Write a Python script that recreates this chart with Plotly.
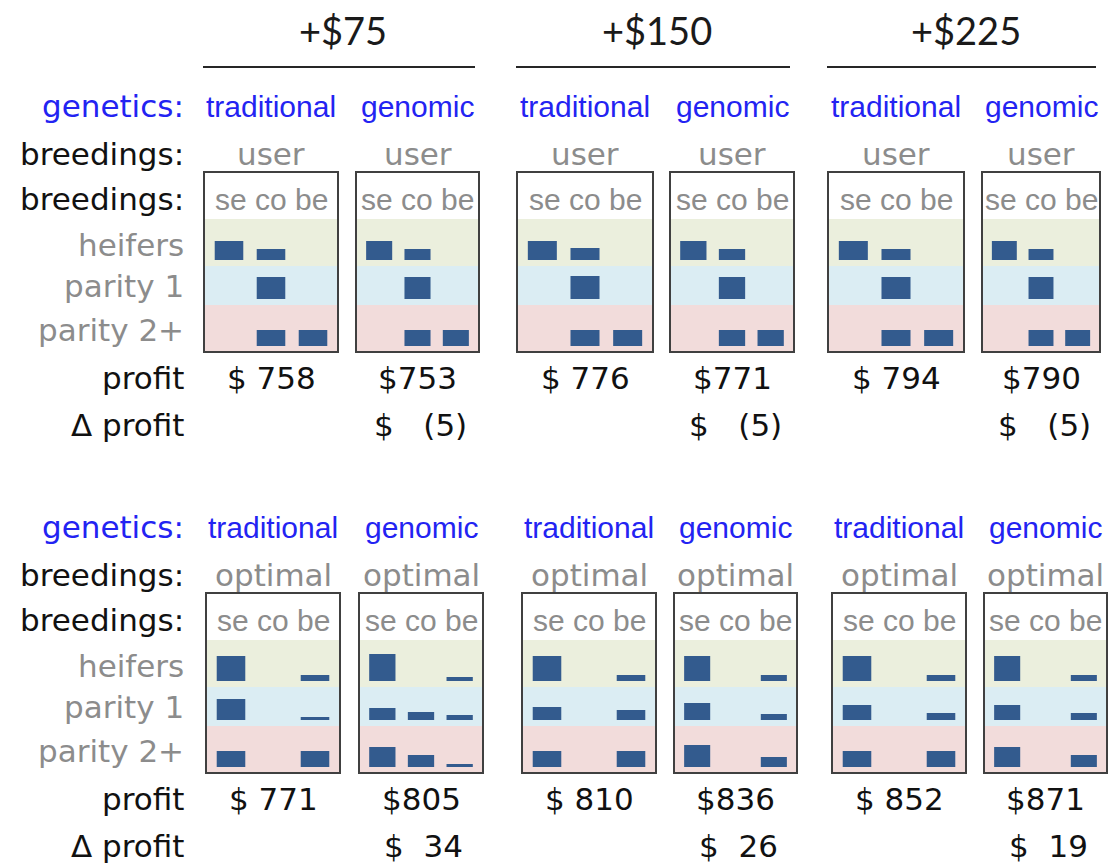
import plotly.graph_objects as go

W, H = 1109, 865

# ---------------- data ----------------
price_offsets = ["+$75", "+$150", "+$225"]
genetics_types = ["traditional", "genomic", "traditional", "genomic", "traditional", "genomic"]
breeding_modes = ["user", "optimal"]
methods = ["se", "co", "be"]
cow_groups = ["heifers", "parity 1", "parity 2+"]
row_labels = ["genetics:", "breedings:", "breedings:", "heifers", "parity 1", "parity 2+", "profit", "Δ profit"]

# relative share of breedings by method [se, co, be], one entry per panel
user_heifers = [[19, 11, 0], [19, 11, 0], [19, 12, 0], [19, 11, 0], [19, 11, 0], [19, 11, 0]]
user_parity1 = [[0, 22, 0], [0, 22, 0], [0, 23, 0], [0, 22, 0], [0, 22, 0], [0, 22, 0]]
user_parity2 = [[0, 16, 16], [0, 16, 16], [0, 16, 16], [0, 16, 16], [0, 16, 16], [0, 16, 16]]
opt_heifers = [[25, 0, 6], [27, 0, 4], [25, 0, 6], [25, 0, 6], [25, 0, 6], [25, 0, 6]]
opt_parity1 = [[21, 0, 3], [12, 8, 5], [13, 0, 10], [17, 0, 6], [15, 0, 7], [15, 0, 7]]
opt_parity2 = [[16, 0, 16], [20, 12, 3], [16, 0, 16], [22, 0, 10], [16, 0, 16], [20, 0, 12]]

user_profit = [758, 753, 776, 771, 794, 790]
user_delta = [None, -5, None, -5, None, -5]
opt_profit = [771, 805, 810, 836, 852, 871]
opt_delta = [None, 34, None, 26, None, 19]

# ---------------- layout geometry (pixels) ----------------
box_x = [
    [(204, 338), (356, 479), (517, 653), (670, 794), (828, 964), (982, 1100)],
    [(206, 340), (359, 483), (522, 656), (674, 797), (832, 966), (984, 1107)],
]
block_top = [172, 593]
header_h = 47
band_h = [47, 39, 47]
baseline_pad = 6
bar_inset = 4
row_y = [106, 154, 199, 245, 286, 330, 378, 425]   # text rows of the top block
block_shift = 421
label_right = 186

BAR = "#335b8e"
BAND = ["#ebefdd", "#dbedf3", "#f2dcdb"]
BLUE = "#2323f2"
GRAY = "#8c8c8c"
BORDER = "#404040"
LEFT_FONT = "DejaVu Sans"
NARROW_FONT = "Liberation Sans"
LSIZE = 31


def px(x):
    return x / W


def py(y):
    return 1 - y / H


fig = go.Figure()
layout = {}
shapes = []
annotations = []

blocks = [
    (user_heifers, user_parity1, user_parity2, user_profit, user_delta, breeding_modes[0]),
    (opt_heifers, opt_parity1, opt_parity2, opt_profit, opt_delta, breeding_modes[1]),
]

k = 0
for b, (hf, p1, p2, profits, deltas, mode) in enumerate(blocks):
    rows_data = [hf, p1, p2]
    top = block_top[b]
    for p in range(6):
        x0, x1 = box_x[b][p]
        y_cursor = top + header_h
        for r in range(3):
            yb0 = y_cursor
            yb1 = y_cursor + band_h[r]
            shapes.append(dict(type="rect", xref="paper", yref="paper",
                               x0=px(x0), x1=px(x1), y0=py(yb1), y1=py(yb0),
                               fillcolor=BAND[r], line=dict(width=0), layer="below"))
            k += 1
            xa = "xaxis" if k == 1 else f"xaxis{k}"
            ya = "yaxis" if k == 1 else f"yaxis{k}"
            xr = "x" if k == 1 else f"x{k}"
            yr = "y" if k == 1 else f"y{k}"
            layout[xa] = dict(domain=[px(x0 + bar_inset), px(x1 - bar_inset)],
                              range=[-0.5, 2.5], type="category",
                              categoryorder="array", categoryarray=methods,
                              visible=False, fixedrange=True, anchor=yr)
            layout[ya] = dict(domain=[py(yb1), py(yb0)],
                              range=[-baseline_pad, band_h[r] - baseline_pad],
                              visible=False, fixedrange=True, anchor=xr)
            fig.add_trace(go.Bar(x=methods, y=rows_data[r][p], xaxis=xr, yaxis=yr,
                                 width=0.68, marker=dict(color=BAR, line=dict(width=0)),
                                 showlegend=False, hoverinfo="skip"))
            y_cursor = yb1
        shapes.append(dict(type="rect", xref="paper", yref="paper",
                           x0=px(x0), x1=px(x1), y0=py(top + header_h + sum(band_h)), y1=py(top),
                           fillcolor="rgba(0,0,0,0)", line=dict(color=BORDER, width=2), layer="below"))
        xc = px((x0 + x1) / 2)
        off = b * block_shift
        annotations.append(dict(x=xc, y=py(row_y[0] + off), text=genetics_types[p],
                                font=dict(family=NARROW_FONT, size=30, color=BLUE)))
        annotations.append(dict(x=xc, y=py(row_y[1] + off), text=mode,
                                font=dict(family=LEFT_FONT, size=LSIZE, color=GRAY)))
        annotations.append(dict(x=xc, y=py(row_y[2] + off), text=" ".join(methods),
                                font=dict(family=NARROW_FONT, size=30, color=GRAY)))
        if genetics_types[p] == "traditional":
            ptxt = f"$ {profits[p]}"
        else:
            ptxt = f"${profits[p]}"
        annotations.append(dict(x=xc, y=py(row_y[6] + off), text=ptxt,
                                font=dict(family=LEFT_FONT, size=LSIZE, color="#111111")))
        d = deltas[p]
        if d is not None:
            if d < 0:
                dtxt = "$\u00a0\u00a0\u00a0(" + str(abs(d)) + ")"
            else:
                dtxt = "$\u00a0\u00a0" + str(d)
            annotations.append(dict(x=xc + px(3), y=py(row_y[7] + off), text=dtxt,
                                    font=dict(family=LEFT_FONT, size=LSIZE, color="#111111")))

    off = b * block_shift
    label_colors = [BLUE, "#111111", "#111111", GRAY, GRAY, GRAY, "#111111", "#111111"]
    for i, lab in enumerate(row_labels):
        annotations.append(dict(x=px(label_right), y=py(row_y[i] + off), text=lab,
                                xanchor="right",
                                font=dict(family=LEFT_FONT, size=LSIZE, color=label_colors[i])))

for g in range(3):
    xa0 = box_x[0][2 * g][0] - 1
    xa1 = box_x[0][2 * g + 1][1] - 4
    shapes.append(dict(type="line", xref="paper", yref="paper",
                       x0=px(xa0), x1=px(xa1), y0=py(67), y1=py(67),
                       line=dict(color="#262626", width=2)))
    annotations.append(dict(x=px((xa0 + xa1) / 2 + 4), y=py(30), text=price_offsets[g],
                            font=dict(family="Lato", size=38, color="#1a1a1a")))

for a in annotations:
    a.setdefault("xref", "paper")
    a.setdefault("yref", "paper")
    a.setdefault("showarrow", False)
    a.setdefault("xanchor", "center")
    a.setdefault("yanchor", "middle")

fig.update_layout(
    width=W, height=H,
    margin=dict(l=0, r=0, t=0, b=0),
    paper_bgcolor="white", plot_bgcolor="rgba(0,0,0,0)",
    barmode="overlay",
    shapes=shapes, annotations=annotations,
    showlegend=False,
    **layout,
)

fig.write_html("out.html", config={"displayModeBar": False, "staticPlot": True},
               post_script="document.body.style.margin='0';document.body.style.overflow='hidden';")
